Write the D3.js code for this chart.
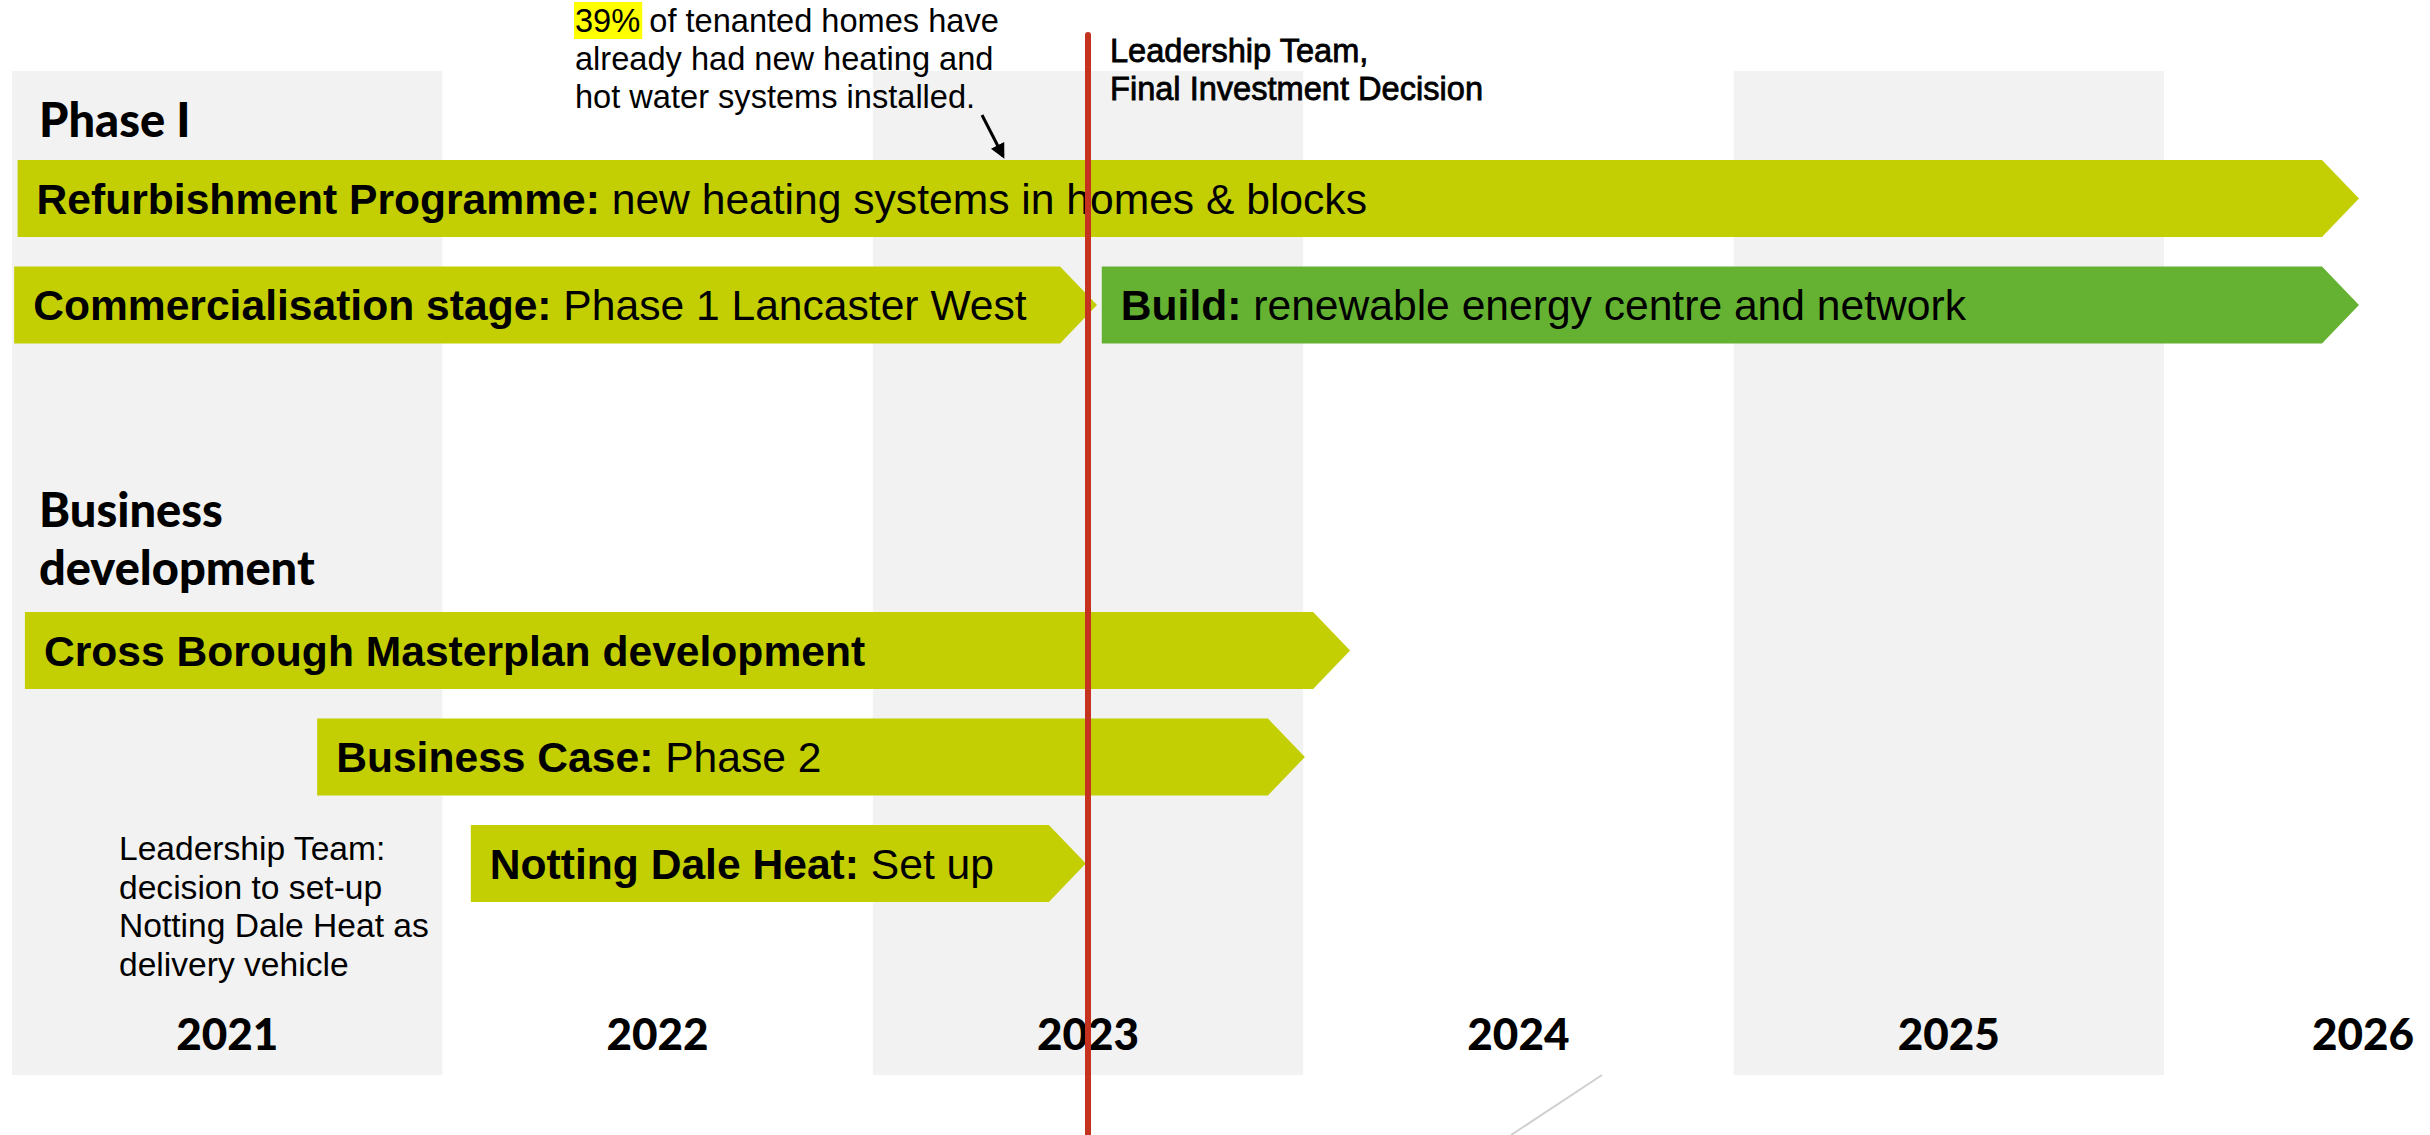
<!DOCTYPE html>
<html>
<head>
<meta charset="utf-8">
<script src="https://cdn.jsdelivr.net/npm/d3@7"></script>
<style>
  body { margin: 0; background: #fff; }
  svg { display: block; }
</style>
</head>
<body>
<div id="chart"></div>
<script>
// timeline data
var years = [2021, 2022, 2023, 2024, 2025, 2026];
var shadedYears = [2021, 2023, 2025];

var groupTitles = [["Phase I"], ["Business", "development"]];

var taskBold = ["Refurbishment Programme:", "Commercialisation stage:", "Build:",
                "Cross Borough Masterplan development", "Business Case:", "Notting Dale Heat:"];
var taskRest = [" new heating systems in homes & blocks", " Phase 1 Lancaster West", " renewable energy centre and network",
                "", " Phase 2", " Set up"];
var taskStart = [2021.013, 2021.005, 2023.532, 2021.03, 2021.709, 2022.066];
var taskEnd   = [2026.453, 2023.521, 2026.453, 2024.109, 2024.004, 2023.495];
var taskGroup = [0, 0, 0, 1, 1, 1];
var taskRow   = [0, 1, 1, 0, 1, 2];
var taskKind  = ["plan", "plan", "build", "plan", "plan", "plan"];

var milestoneDate = 2023.5;
var milestoneText = ["Leadership Team,", "Final Investment Decision"];

var noteTop = ["39%", " of tenanted homes have", "already had new heating and", "hot water systems installed."];
var noteLeft = ["Leadership Team:", "decision to set-up", "Notting Dale Heat as", "delivery vehicle"];

var W = 2430, H = 1135;
var svg = d3.select("#chart").append("svg").attr("width", W).attr("height", H);

var x = d3.scaleLinear().domain([2021, 2026]).range([12, 2164]);
var groupTop = [160, 612];
var rowY = d3.scaleLinear().domain([0, 1]).range([0, 106.5]);
var barH = 77, tip = 37;
var colour = d3.scaleOrdinal().domain(["plan", "build"]).range(["#c3cf02", "#65b232"]);

var sans = "'Liberation Sans', Arial, Helvetica, sans-serif";
var gill = "Lato, 'Open Sans', sans-serif";

// year bands
svg.selectAll("rect.band").data(shadedYears).enter().append("rect")
  .attr("class", "band")
  .attr("x", function(d) { return x(d); })
  .attr("y", 71)
  .attr("width", function(d) { return x(d + 1) - x(d); })
  .attr("height", 1004)
  .attr("fill", "#f2f2f2");

// stray grey line at bottom
svg.append("line").attr("x1", 1602).attr("y1", 1075).attr("x2", 1511).attr("y2", 1135)
  .attr("stroke", "#d0d0d0").attr("stroke-width", 2);

// year labels
svg.selectAll("text.year").data(years).enter().append("text")
  .attr("class", "year")
  .attr("x", function(d) { return Math.min(x(d + 0.5), W - 67); })
  .attr("y", 1050)
  .attr("text-anchor", "middle")
  .style("font-family", gill).style("font-weight", 900).style("font-size", "44px")
  .text(function(d) { return d; });

// group titles
groupTitles.forEach(function(lines, g) {
  var t = svg.append("text").attr("x", 39).attr("y", g == 0 ? 137 : 527)
    .style("font-family", gill).style("font-weight", 900).style("font-size", "47px");
  lines.forEach(function(l, i) {
    t.append("tspan").attr("x", 39).attr("dy", i == 0 ? 0 : 58).text(l);
  });
});

// task arrows
var tasks = taskBold.map(function(b, i) {
  return { bold: b, rest: taskRest[i], start: taskStart[i], end: taskEnd[i],
           y: groupTop[taskGroup[i]] + rowY(taskRow[i]), kind: taskKind[i] };
});

var tg = svg.selectAll("g.task").data(tasks).enter().append("g").attr("class", "task");
tg.append("path")
  .attr("d", function(d) {
    var x0 = x(d.start), x1 = x(d.end);
    return "M" + x0 + "," + d.y + "H" + (x1 - tip) + "L" + x1 + "," + (d.y + barH / 2) +
           "L" + (x1 - tip) + "," + (d.y + barH) + "H" + x0 + "Z";
  })
  .attr("fill", function(d) { return colour(d.kind); });

var lab = tg.append("text")
  .attr("x", function(d) { return x(d.start) + 19; })
  .attr("y", function(d) { return d.y + barH / 2 + 15; })
  .style("font-family", sans).style("font-size", "42.6px").attr("fill", "#000");
lab.append("tspan").style("font-weight", 700).text(function(d) { return d.bold; });
lab.append("tspan").style("font-weight", 400).text(function(d) { return d.rest; });

// top note with highlight
var nt = svg.append("text").attr("x", 575).attr("y", 32)
  .style("font-family", sans).style("font-size", "32.6px");
var hl = nt.append("tspan").text(noteTop[0]);
nt.append("tspan").text(noteTop[1]);
nt.append("tspan").attr("x", 575).attr("dy", 38).text(noteTop[2]);
nt.append("tspan").attr("x", 575).attr("dy", 38).text(noteTop[3]);
var hlw = hl.node().getComputedTextLength();
svg.insert("rect", function() { return nt.node(); })
  .attr("x", 574).attr("y", 2).attr("width", hlw + 3).attr("height", 37).attr("fill", "#ffff00");

// arrow from note to refurbishment bar
var defs = svg.append("defs");
defs.append("marker").attr("id", "head").attr("viewBox", "0 0 10 10")
  .attr("refX", 8).attr("refY", 5).attr("markerWidth", 5).attr("markerHeight", 5)
  .attr("orient", "auto")
  .append("path").attr("d", "M0,0L10,5L0,10Z").attr("fill", "#000");
svg.append("line").attr("x1", 982).attr("y1", 115).attr("x2", 1003).attr("y2", 156)
  .attr("stroke", "#000").attr("stroke-width", 3).attr("marker-end", "url(#head)");

// left note
var nl = svg.append("text").attr("x", 119).attr("y", 860)
  .style("font-family", sans).style("font-size", "33.6px");
noteLeft.forEach(function(l, i) {
  nl.append("tspan").attr("x", 119).attr("dy", i == 0 ? 0 : 38.5).text(l);
});

// milestone line
svg.append("line")
  .attr("x1", x(milestoneDate)).attr("x2", x(milestoneDate))
  .attr("y1", 35).attr("y2", H + 5)
  .attr("stroke", "#c53220").attr("stroke-width", 6).attr("stroke-linecap", "round");

var mt = svg.append("text").attr("x", x(milestoneDate) + 22).attr("y", 62)
  .style("font-family", sans).style("font-size", "32.6px")
  .attr("stroke", "#000").attr("stroke-width", 0.8);
milestoneText.forEach(function(l, i) {
  mt.append("tspan").attr("x", x(milestoneDate) + 22).attr("dy", i == 0 ? 0 : 37.5).text(l);
});
</script>
</body>
</html>
